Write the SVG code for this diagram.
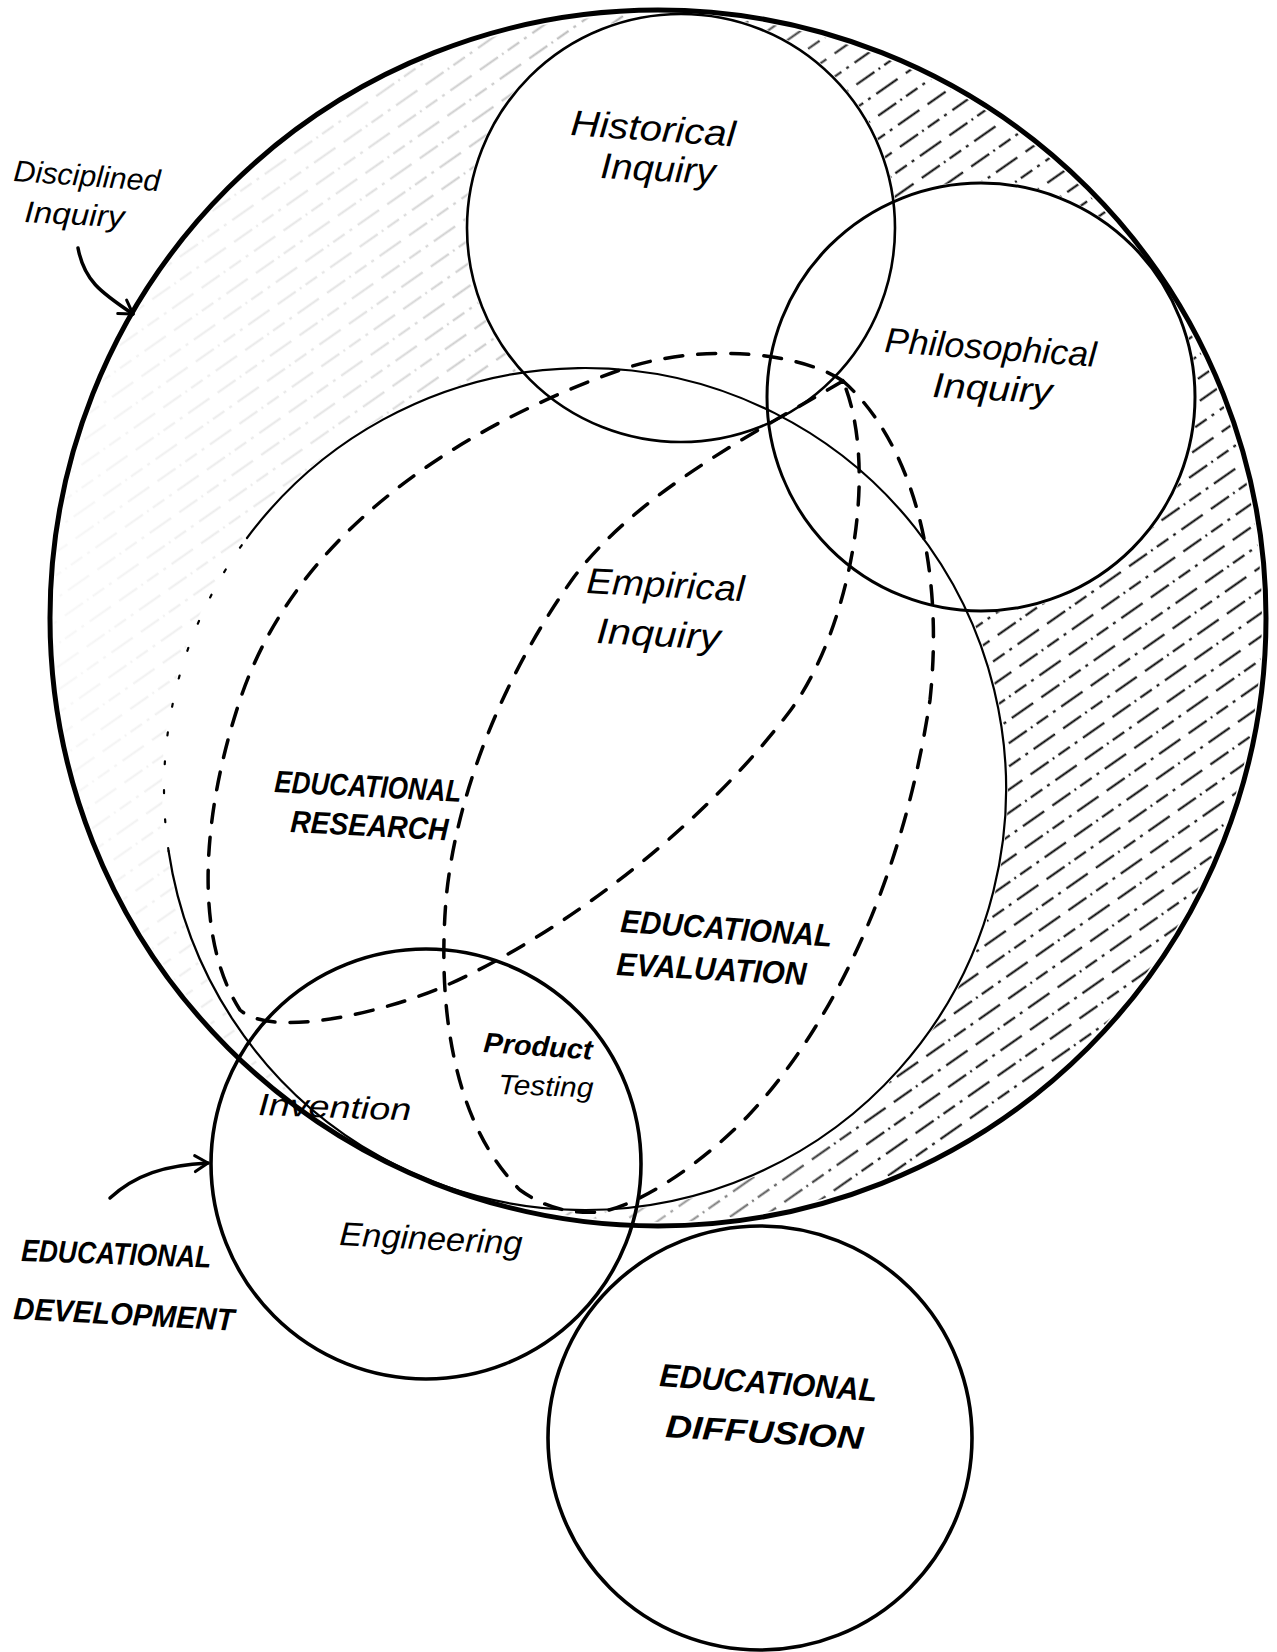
<svg xmlns="http://www.w3.org/2000/svg" width="1277" height="1652" viewBox="0 0 1277 1652">
<defs>
<style>
.ring{fill:none;stroke:#000;stroke-linecap:round}
.dash{fill:none;stroke:#000;stroke-width:3.5;stroke-dasharray:18 15;stroke-linecap:round}
.lbl{font-family:"Liberation Sans","DejaVu Sans",sans-serif;font-style:italic;fill:#000}
.caps{font-family:"Liberation Sans","DejaVu Sans",sans-serif;font-style:italic;font-weight:bold;fill:#000}
.conn{fill:none;stroke:#000;stroke-width:3.5;stroke-linecap:round}
</style>
<pattern id="hatch" patternUnits="userSpaceOnUse" width="200" height="38" patternTransform="rotate(-35)">
<line x1="0" y1="9.5" x2="200" y2="9.5" stroke="#000" stroke-width="1.8" stroke-dasharray="22 5 2 5 14 6 3 7 26 10"/>
<line x1="0" y1="28.5" x2="200" y2="28.5" stroke="#000" stroke-width="1.8" stroke-dasharray="22 5 2 5 14 6 3 7 26 10" stroke-dashoffset="47"/>
</pattern>
<linearGradient id="fade" x1="0" y1="0" x2="1" y2="0">
<stop offset="0" stop-color="#fff" stop-opacity="0.03"/>
<stop offset="0.25" stop-color="#fff" stop-opacity="0.12"/>
<stop offset="0.5" stop-color="#fff" stop-opacity="0.35"/>
<stop offset="0.68" stop-color="#fff" stop-opacity="1"/>
</linearGradient>
<mask id="hmask" maskUnits="userSpaceOnUse" x="0" y="0" width="1277" height="1652">
<circle cx="658" cy="618" r="604" fill="url(#fade)"/>
<circle cx="681" cy="228" r="216" fill="#000"/>
<circle cx="981" cy="397" r="216" fill="#000"/>
<circle cx="585" cy="789" r="423" fill="#000"/>
</mask>
<marker id="arrow" viewBox="0 0 20 20" refX="16" refY="10" markerWidth="20" markerHeight="20" markerUnits="userSpaceOnUse" orient="auto">
<path d="M3 2 L16 10 L3 18" fill="none" stroke="#000" stroke-width="3" stroke-linecap="round" stroke-linejoin="round"/>
</marker>
</defs>
<rect width="1277" height="1652" fill="#fff"/>

<g id="hatching">
<rect x="0" y="0" width="1277" height="1300" fill="url(#hatch)" mask="url(#hmask)"/>
</g>

<g id="disciplined-inquiry">
<circle class="ring" cx="658" cy="618" r="608" stroke-width="5"/>
<text class="lbl" x="13" y="181" font-size="30" textLength="147" lengthAdjust="spacingAndGlyphs" transform="rotate(4 13 181)">Disciplined</text>
<text class="lbl" x="24" y="222" font-size="30" textLength="100" lengthAdjust="spacingAndGlyphs" transform="rotate(3 24 222)">Inquiry</text>
</g>

<g id="historical-inquiry">
<circle class="ring" cx="681" cy="228" r="214" stroke-width="2.6"/>
<text class="lbl" x="570" y="135" font-size="36" textLength="165" lengthAdjust="spacingAndGlyphs" transform="rotate(4 570 135)">Historical</text>
<text class="lbl" x="600" y="178" font-size="36" textLength="115" lengthAdjust="spacingAndGlyphs" transform="rotate(3 600 178)">Inquiry</text>
</g>

<g id="philosophical-inquiry">
<circle class="ring" cx="981" cy="397" r="214" stroke-width="3"/>
<text class="lbl" x="884" y="352" font-size="35" textLength="212" lengthAdjust="spacingAndGlyphs" transform="rotate(4 884 352)">Philosophical</text>
<text class="lbl" x="932" y="397" font-size="35" textLength="120" lengthAdjust="spacingAndGlyphs" transform="rotate(3 932 397)">Inquiry</text>
</g>

<g id="empirical-inquiry">
<path class="ring" stroke-width="2.2" d="M247 538 A421 421 0 1 1 168.6 851"/>
<path class="ring" stroke-width="2.2" stroke-dasharray="3 26" d="M168.6 851 A421 421 0 0 1 247 538"/>
<text class="lbl" x="586" y="593" font-size="36" textLength="158" lengthAdjust="spacingAndGlyphs" transform="rotate(3 586 593)">Empirical</text>
<text class="lbl" x="596" y="643" font-size="36" textLength="124" lengthAdjust="spacingAndGlyphs" transform="rotate(3 596 643)">Inquiry</text>
</g>

<g id="educational-research">
<path class="dash" d="M843 381 C800 352 700 342 620 370 C480 420 300 520 240 700 C200 820 195 940 240 1010 C275 1040 390 1010 445 986 C560 935 700 830 790 711 C850 630 880 470 843 381 Z"/>
<text class="caps" x="274" y="792" font-size="31" textLength="187" lengthAdjust="spacingAndGlyphs" transform="rotate(3 274 792)">EDUCATIONAL</text>
<text class="caps" x="290" y="832" font-size="31" textLength="158" lengthAdjust="spacingAndGlyphs" transform="rotate(3 290 832)">RESEARCH</text>
</g>

<g id="educational-evaluation">
<path class="dash" d="M843 381 C760 430 640 490 574 577 C500 680 455 800 446 900 C438 1000 450 1120 520 1190 C545 1208 570 1214 600 1212 C640 1205 700 1165 747 1117 C820 1040 900 900 930 700 C945 560 910 440 843 381 Z"/>
<text class="caps" x="620" y="932" font-size="32" textLength="212" lengthAdjust="spacingAndGlyphs" transform="rotate(4 620 932)">EDUCATIONAL</text>
<text class="caps" x="616" y="975" font-size="32" textLength="190" lengthAdjust="spacingAndGlyphs" transform="rotate(3 616 975)">EVALUATION</text>
<text class="lbl" x="483" y="1052" font-size="28" font-weight="bold" textLength="109" lengthAdjust="spacingAndGlyphs" transform="rotate(4 483 1052)">Product</text>
<text class="lbl" x="498" y="1094" font-size="28" textLength="95" lengthAdjust="spacingAndGlyphs" transform="rotate(2 498 1094)">Testing</text>
</g>

<g id="educational-development">
<circle class="ring" cx="426" cy="1164" r="215" stroke-width="3.6"/>
<text class="lbl" x="258" y="1115" font-size="31" textLength="153" lengthAdjust="spacingAndGlyphs" transform="rotate(2 258 1115)">Invention</text>
<text class="lbl" x="339" y="1245" font-size="33" textLength="183" lengthAdjust="spacingAndGlyphs" transform="rotate(3 339 1245)">Engineering</text>
<text class="caps" x="21" y="1261" font-size="31" textLength="190" lengthAdjust="spacingAndGlyphs" transform="rotate(2 21 1261)">EDUCATIONAL</text>
<text class="caps" x="13" y="1319" font-size="31" textLength="221" lengthAdjust="spacingAndGlyphs" transform="rotate(3 13 1319)">DEVELOPMENT</text>
</g>

<g id="educational-diffusion">
<circle class="ring" cx="760" cy="1438" r="212" stroke-width="3.6"/>
<text class="caps" x="659" y="1386" font-size="32" textLength="218" lengthAdjust="spacingAndGlyphs" transform="rotate(4 659 1386)">EDUCATIONAL</text>
<text class="caps" x="665" y="1437" font-size="32" textLength="198" lengthAdjust="spacingAndGlyphs" transform="rotate(3.5 665 1437)">DIFFUSION</text>
</g>

<g id="connectors">
<path class="conn" d="M78 248 C84 280 100 292 133 314" marker-end="url(#arrow)"/>
<path class="conn" d="M110 1198 C135 1175 165 1165 208 1163" marker-end="url(#arrow)"/>
</g>
</svg>
